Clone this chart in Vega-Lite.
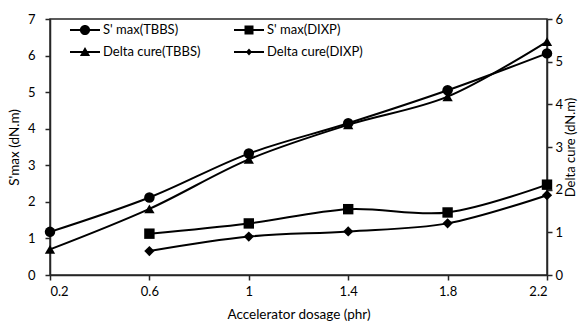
{
  "$schema": "https://vega.github.io/schema/vega-lite/v6.json",
  "width": 497,
  "height": 256,
  "autosize": "none",
  "padding": {"left": 50, "top": 19, "right": 34, "bottom": 49},
  "background": "white",
  "config": {
    "font": "Lato",
    "view": {"stroke": "#262626", "strokeWidth": 1.5},
    "axis": {
      "grid": false,
      "domainColor": "#262626",
      "domainWidth": 1.5,
      "tickColor": "#262626",
      "tickWidth": 1.5,
      "tickSize": 5,
      "labelFont": "Lato",
      "labelFontSize": 13,
      "labelColor": "#000000",
      "titleFont": "Lato",
      "titleFontSize": 13.5,
      "titleFontWeight": "normal",
      "titleColor": "#000000"
    }
  },
  "data": {
    "values": [
      {"x": 0.2, "series": "S' max(TBBS)", "measure": "smax", "value": 1.18},
      {"x": 0.6, "series": "S' max(TBBS)", "measure": "smax", "value": 2.12},
      {"x": 1.0, "series": "S' max(TBBS)", "measure": "smax", "value": 3.32},
      {"x": 1.4, "series": "S' max(TBBS)", "measure": "smax", "value": 4.15},
      {"x": 1.8, "series": "S' max(TBBS)", "measure": "smax", "value": 5.05},
      {"x": 2.2, "series": "S' max(TBBS)", "measure": "smax", "value": 6.06},
      {"x": 0.6, "series": "S' max(DIXP)", "measure": "smax", "value": 1.13},
      {"x": 1.0, "series": "S' max(DIXP)", "measure": "smax", "value": 1.41},
      {"x": 1.4, "series": "S' max(DIXP)", "measure": "smax", "value": 1.8},
      {"x": 1.8, "series": "S' max(DIXP)", "measure": "smax", "value": 1.71},
      {"x": 2.2, "series": "S' max(DIXP)", "measure": "smax", "value": 2.47},
      {"x": 0.2, "series": "Delta cure(TBBS)", "measure": "delta", "value": 0.6},
      {"x": 0.6, "series": "Delta cure(TBBS)", "measure": "delta", "value": 1.55},
      {"x": 1.0, "series": "Delta cure(TBBS)", "measure": "delta", "value": 2.71},
      {"x": 1.4, "series": "Delta cure(TBBS)", "measure": "delta", "value": 3.52},
      {"x": 1.8, "series": "Delta cure(TBBS)", "measure": "delta", "value": 4.18},
      {"x": 2.2, "series": "Delta cure(TBBS)", "measure": "delta", "value": 5.47},
      {"x": 0.6, "series": "Delta cure(DIXP)", "measure": "delta", "value": 0.56},
      {"x": 1.0, "series": "Delta cure(DIXP)", "measure": "delta", "value": 0.9},
      {"x": 1.4, "series": "Delta cure(DIXP)", "measure": "delta", "value": 1.02},
      {"x": 1.8, "series": "Delta cure(DIXP)", "measure": "delta", "value": 1.21},
      {"x": 2.2, "series": "Delta cure(DIXP)", "measure": "delta", "value": 1.87}
    ]
  },
  "encoding": {
    "x": {
      "field": "x",
      "type": "quantitative",
      "scale": {"domain": [0.2, 2.2], "nice": false, "zero": false},
      "axis": {
        "values": [0.2, 0.6, 1, 1.4, 1.8, 2.2],
        "format": "~g",
        "title": "Accelerator dosage (phr)",
        "labelPadding": 5,
        "titlePadding": 9
      }
    }
  },
  "layer": [
    {
      "transform": [{"filter": "datum.measure == 'smax'"}],
      "encoding": {
        "y": {
          "field": "value",
          "type": "quantitative",
          "scale": {"domain": [0, 7], "nice": false},
          "axis": {
            "orient": "left",
            "values": [0, 1, 2, 3, 4, 5, 6, 7],
            "title": "S'max (dN.m)",
            "labelPadding": 10,
            "titlePadding": 6
          }
        }
      },
      "layer": [
        {
          "mark": {"type": "line", "interpolate": "catmull-rom", "color": "#000000", "strokeWidth": 2},
          "encoding": {"detail": {"field": "series"}}
        },
        {
          "mark": {"type": "point", "filled": true, "color": "#000000", "opacity": 1},
          "encoding": {
            "shape": {
              "field": "series",
              "scale": {
                "domain": ["S' max(TBBS)", "S' max(DIXP)", "Delta cure(TBBS)", "Delta cure(DIXP)"],
                "range": ["circle", "square", "triangle-up", "diamond"]
              },
              "legend": null
            },
            "size": {
              "field": "series",
              "type": "nominal",
              "scale": {
                "domain": ["S' max(TBBS)", "S' max(DIXP)", "Delta cure(TBBS)", "Delta cure(DIXP)"],
                "range": [110, 105, 100, 60]
              },
              "legend": null
            }
          }
        }
      ]
    },
    {
      "transform": [{"filter": "datum.measure == 'delta'"}],
      "encoding": {
        "y": {
          "field": "value",
          "type": "quantitative",
          "scale": {"domain": [0, 6], "nice": false},
          "axis": {
            "orient": "right",
            "values": [0, 1, 2, 3, 4, 5, 6],
            "title": "Delta cure (dN.m)",
            "titleAngle": 270,
            "titleBaseline": "top",
            "titleFontSize": 13,
            "labelPadding": 3,
            "titlePadding": 2
          }
        }
      },
      "layer": [
        {
          "mark": {"type": "line", "interpolate": "catmull-rom", "color": "#000000", "strokeWidth": 2},
          "encoding": {"detail": {"field": "series"}}
        },
        {
          "mark": {"type": "point", "filled": true, "color": "#000000", "opacity": 1},
          "encoding": {
            "shape": {
              "field": "series",
              "scale": {
                "domain": ["S' max(TBBS)", "S' max(DIXP)", "Delta cure(TBBS)", "Delta cure(DIXP)"],
                "range": ["circle", "square", "triangle-up", "diamond"]
              },
              "legend": null
            },
            "size": {
              "field": "series",
              "type": "nominal",
              "scale": {
                "domain": ["S' max(TBBS)", "S' max(DIXP)", "Delta cure(TBBS)", "Delta cure(DIXP)"],
                "range": [110, 105, 100, 60]
              },
              "legend": null
            }
          }
        }
      ]
    },
    {
      "mark": {"type": "point", "filled": true, "color": "#000000", "opacity": 0},
      "encoding": {
        "shape": {
          "field": "series",
          "scale": {
            "domain": ["S' max(TBBS)", "Delta cure(TBBS)", "S' max(DIXP)", "Delta cure(DIXP)"],
            "range": [
              "M-1,-0.067H1V0.067H-1ZM0.34,0A0.34,0.34,0,1,1,-0.34,0A0.34,0.34,0,1,1,0.34,0Z",
              "M-1,-0.067H1V0.067H-1ZM0,-0.34L0.34,0.26H-0.34Z",
              "M-1,-0.067H1V0.067H-1ZM-0.3,-0.3H0.3V0.3H-0.3Z",
              "M-1,-0.067H1V0.067H-1ZM0,-0.24L0.2,0L0,0.24L-0.2,0Z"
            ]
          },
          "legend": {
            "title": null,
            "orient": "none",
            "legendX": 20,
            "legendY": -4,
            "columns": 2,
            "columnPadding": 33,
            "rowPadding": 0,
            "padding": 0,
            "symbolSize": 900,
            "symbolStrokeWidth": 0,
            "symbolFillColor": "#000000",
            "symbolStrokeColor": "#000000",
            "symbolOpacity": 1,
            "labelOffset": 3,
            "labelFont": "Lato",
            "labelFontSize": 13,
            "labelColor": "#000000"
          }
        }
      }
    }
  ],
  "resolve": {"scale": {"y": "independent", "shape": "independent", "size": "independent"}}
}
